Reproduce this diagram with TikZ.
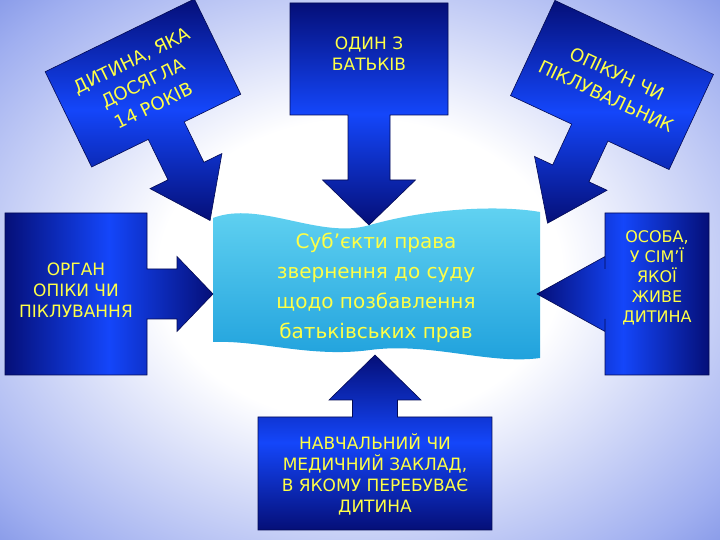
\documentclass[tikz,border=0pt]{standalone}
\usepackage{fontspec}
\setmainfont{DejaVu Sans}
\definecolor{dblue}{RGB}{5,15,120}
\definecolor{bblue}{RGB}{20,70,250}
\definecolor{ylw}{RGB}{255,255,70}
\definecolor{bgout}{RGB}{50,80,205}
\definecolor{bgmid}{RGB}{160,175,240}
\definecolor{cytop}{RGB}{100,212,242}
\definecolor{cybot}{RGB}{30,160,220}
\pgfdeclareradialshading{bgshade}{\pgfpoint{0bp}{0bp}}{color(0bp)=(white); color(14bp)=(white); color(32bp)=(bgmid); color(50bp)=(bgout); color(100bp)=(bgout)}
\newcommand\callout[6]{%
 (-#1/2,#2/2) -- (#1/2,#2/2) -- (#1/2,-#2/2) -- (#3/2,-#2/2) -- (#3/2,-#2/2-#4)
 -- (#5/2,-#2/2-#4) -- (0,-#2/2-#4-#6) -- (-#5/2,-#2/2-#4) -- (-#3/2,-#2/2-#4)
 -- (-#3/2,-#2/2) -- (-#1/2,-#2/2) -- cycle}
\tikzset{
 arrbox/.style={draw=dblue!70!black, line width=0.6pt, top color=dblue, bottom color=dblue, middle color=bblue},
 arrboxh/.style={draw=dblue!70!black, line width=0.6pt, left color=dblue, right color=dblue, middle color=bblue},
 lbl/.style={text=ylw, align=center, font=\fontsize{17}{21}\selectfont},
 lblbig/.style={text=ylw, align=center, font=\fontsize{18}{25}\selectfont},
}
\begin{document}
\begin{tikzpicture}[x=1pt,y=1pt]
\useasboundingbox (0,0) rectangle (720,540);
\shade[shading=bgshade] (0,0) rectangle (720,540);
% banner
\shade[top color=cytop, bottom color=cybot]
 (213,322) .. controls (260,340) and (320,300) .. (370,315)
 .. controls (430,332) and (500,335) .. (540,328) -- (540,182)
 .. controls (490,175) and (430,198) .. (370,190)
 .. controls (310,182) and (260,200) .. (213,198) -- cycle;
\node[text=ylw, align=center, font=\fontsize{20}{30}\selectfont] (c) at (376,252)
 {Суб'єкти права\\звернення до суду\\щодо позбавлення\\батьківських прав};
% top
\begin{scope}[shift={(369,481)}]
 \path[arrbox] \callout{158}{112}{42}{65}{93}{45};
 \node[lbl] (t) at (0,5) {ОДИН З\\БАТЬКІВ};
\end{scope}
% left
\begin{scope}[shift={(76,246)},rotate=90]
 \path[arrboxh] \callout{162}{142}{50}{30}{75}{36};
\end{scope}
\node[lbl] (l) at (76,250) {ОРГАН\\ОПІКИ ЧИ\\ПІКЛУВАННЯ};
% right
\begin{scope}[shift={(657,246)},rotate=-90]
 \path[arrboxh] \callout{162}{104}{50}{0}{75}{68};
\end{scope}
\node[lbl, font=\fontsize{16}{20}\selectfont] (r) at (657,262) {ОСОБА,\\У СІМ'Ї\\ЯКОЇ\\ЖИВЕ\\ДИТИНА};
% bottom
\begin{scope}[shift={(375,66.5)},rotate=180]
 \path[arrbox] \callout{234}{113}{45}{17}{92}{45};
\end{scope}
\node[lbl] (b) at (375,66) {НАВЧАЛЬНИЙ ЧИ\\МЕДИЧНИЙ ЗАКЛАД,\\ В ЯКОМУ ПЕРЕБУВАЄ\\ДИТИНА};
% top-left
\begin{scope}[shift={(143,457)},rotate=26]
 \path[arrbox] \callout{166}{106}{40}{45}{80}{55};
 \node[lblbig, rotate=26] (tl) at (0,0) {ДИТИНА, ЯКА\\ДОСЯГЛА\\14 РОКІВ};
\end{scope}
% top-right
\begin{scope}[shift={(612,455)},rotate=-25]
 \path[arrbox] \callout{175}{105}{40}{45}{80}{55};
 \node[lblbig, rotate=-25] (tr) at (0,0) {ОПІКУН ЧИ\\ПІКЛУВАЛЬНИК};
\end{scope}
\end{tikzpicture}
\end{document}
